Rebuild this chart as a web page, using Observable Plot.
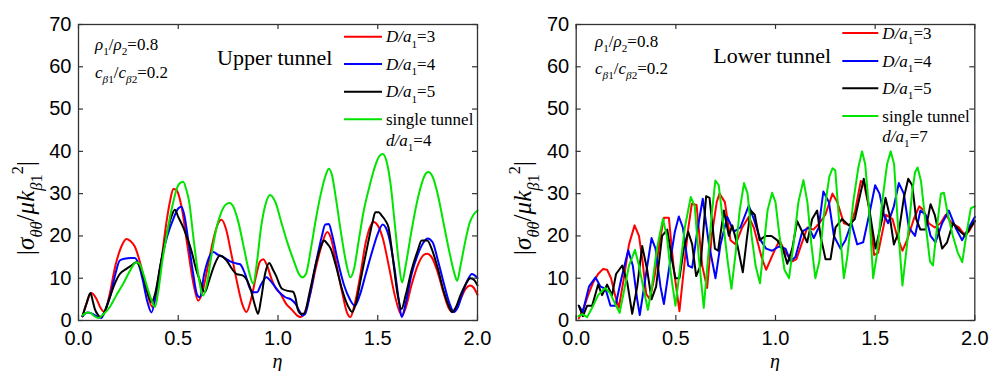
<!DOCTYPE html>
<html><head><meta charset="utf-8">
<script src="https://cdn.jsdelivr.net/npm/d3@7"></script>
<script src="https://cdn.jsdelivr.net/npm/@observablehq/plot@0.6"></script>
<style>
html,body{margin:0;padding:0;background:#fff;}
#wrap{position:relative;width:990px;height:371px;overflow:hidden;background:#fff;}
.panel{position:absolute;top:0;width:495px;height:371px;}
</style></head><body><div id="wrap"></div>
<script>
// ---- tick values ----
const xTicks = [0, 0.5, 1.0, 1.5, 2.0];
const yTicks = [0, 10, 20, 30, 40, 50, 60, 70];
const seriesLabels = ["D/a1=3", "D/a1=4", "D/a1=5", "single tunnel"];
const seriesColors = ["#ff0000", "#0000ff", "#000000", "#00e400"];

// ---- Upper tunnel: [eta, |sigma|] ----
const upperD3 = [[0.02,1],[0.04,4],[0.065,6.5],[0.09,5.1],[0.11,3],[0.13,2],[0.155,6],[0.185,13],[0.215,17.5],[0.24,19.3],[0.26,18.8],[0.282,17.5],[0.31,13.5],[0.34,7.5],[0.37,3.2],[0.39,6],[0.415,14],[0.44,23],[0.46,28.5],[0.475,31.1],[0.49,31],[0.5,30],[0.52,26],[0.545,18],[0.575,9],[0.6,4.7],[0.62,6.5],[0.645,12],[0.675,19],[0.7,23],[0.717,23.8],[0.74,21.5],[0.765,16],[0.795,9],[0.82,4],[0.842,2],[0.865,5],[0.89,10.5],[0.91,14],[0.926,14.5],[0.945,13],[0.97,9.5],[0.99,7.5],[1.01,6.5],[1.04,4],[1.07,2.5],[1.095,1.2],[1.113,0.8],[1.13,1.5],[1.16,6],[1.19,12.5],[1.22,18],[1.247,20.9],[1.265,19.5],[1.29,14],[1.32,7],[1.345,2],[1.363,0.8],[1.38,3],[1.41,10],[1.44,18.5],[1.465,22.5],[1.48,23.3],[1.5,22.5],[1.525,19.5],[1.555,13],[1.585,6],[1.61,2],[1.622,1.2],[1.64,3],[1.67,8.5],[1.7,13],[1.73,15.5],[1.748,15.8],[1.77,15],[1.8,11.5],[1.83,6.5],[1.855,3],[1.873,2],[1.89,2.5],[1.915,5],[1.94,7.5],[1.965,8.3],[1.98,7.8],[2.0,6.1]];
const upperD4 = [[0.02,1],[0.045,1.9],[0.065,1.7],[0.09,1],[0.115,0.6],[0.135,2.5],[0.16,6],[0.185,11],[0.207,14.2],[0.23,14.6],[0.26,14.8],[0.282,14.8],[0.3,13.5],[0.32,10],[0.345,4.5],[0.366,1.9],[0.39,7],[0.415,14],[0.445,20],[0.475,24],[0.5,26.5],[0.516,26.9],[0.53,25],[0.55,19],[0.575,11],[0.595,6],[0.608,5.5],[0.63,11],[0.655,15],[0.675,16.2],[0.7,15.5],[0.725,15],[0.76,14],[0.792,13.5],[0.81,13.3],[0.835,11],[0.86,7.5],[0.876,6.7],[0.895,6.7],[0.915,8.5],[0.942,10.2],[0.96,9.5],[0.985,8],[1.01,6.5],[1.037,5.5],[1.065,5],[1.087,4],[1.11,2],[1.12,1.2],[1.135,1.5],[1.16,6],[1.19,13.5],[1.22,20],[1.237,22.7],[1.255,22.8],[1.27,20.5],[1.3,14],[1.33,8.5],[1.36,5],[1.385,3.5],[1.41,6],[1.44,11],[1.47,16],[1.5,20.5],[1.525,22.7],[1.54,22],[1.56,19],[1.585,12],[1.605,5],[1.62,0.8],[1.64,4],[1.67,11],[1.7,15.5],[1.73,18.5],[1.75,19.4],[1.775,18.5],[1.8,14.5],[1.83,9],[1.86,4],[1.882,2],[1.9,3],[1.925,6.5],[1.95,9.5],[1.972,11],[1.99,10.5],[2.0,10]];
const upperD5 = [[0.02,1],[0.04,4],[0.06,6.5],[0.072,4.5],[0.082,2.7],[0.1,1.2],[0.107,0.8],[0.125,1.5],[0.15,4.5],[0.18,8.5],[0.207,11],[0.24,12.2],[0.265,13],[0.29,13.8],[0.31,12.5],[0.33,9.5],[0.35,6],[0.366,4.3],[0.385,6.5],[0.41,13],[0.44,20],[0.465,24.5],[0.483,26.2],[0.5,24.5],[0.525,22],[0.545,19.5],[0.566,16.5],[0.59,12],[0.608,9.5],[0.633,6.7],[0.655,9.5],[0.68,13],[0.709,15.4],[0.742,14.2],[0.765,12.5],[0.792,11],[0.825,10.6],[0.845,9.5],[0.865,7],[0.885,3.5],[0.9,1.6],[0.915,5],[0.935,11],[0.956,13.6],[0.975,12],[0.99,10.6],[1.02,7.5],[1.05,7],[1.075,6.8],[1.087,5.5],[1.1,2.5],[1.115,1.6],[1.13,1.6],[1.16,7],[1.19,13.5],[1.215,17.5],[1.23,18.9],[1.25,18],[1.264,17],[1.29,13],[1.32,7.5],[1.35,3.5],[1.372,2],[1.39,4],[1.42,11],[1.45,18],[1.475,23.5],[1.488,25.6],[1.505,25.6],[1.52,24.8],[1.54,23.5],[1.554,22],[1.575,15],[1.6,6],[1.619,2.7],[1.64,6],[1.67,12],[1.7,16.5],[1.72,18.9],[1.748,18.9],[1.77,17],[1.8,12.5],[1.83,7],[1.855,3.5],[1.873,2],[1.89,3],[1.915,6],[1.94,8.5],[1.965,10],[1.985,9.5],[2.0,8.3]];
const upperSingle = [[0.02,1.2],[0.045,1.9],[0.06,1.8],[0.08,1],[0.1,0.6],[0.125,1.5],[0.157,3.2],[0.19,6],[0.224,8.7],[0.255,11.5],[0.29,13.8],[0.305,13.5],[0.325,11],[0.35,7],[0.37,4.3],[0.383,3.2],[0.4,7],[0.42,14],[0.445,21],[0.47,27],[0.495,31.5],[0.515,32.7],[0.525,32.8],[0.54,31],[0.555,28],[0.575,20],[0.6,11],[0.625,5.9],[0.645,9],[0.665,15],[0.69,21.5],[0.715,25.5],[0.74,27.5],[0.759,27.8],[0.775,27],[0.8,23.5],[0.83,17],[0.855,11.5],[0.876,8.7],[0.895,14],[0.915,22],[0.935,27],[0.96,29.7],[0.987,28],[1.018,23],[1.05,18],[1.08,14],[1.105,11],[1.121,10.2],[1.14,11],[1.165,17],[1.19,24],[1.215,30],[1.24,34.5],[1.255,35.9],[1.27,34.5],[1.29,29],[1.315,21],[1.34,14],[1.363,10.2],[1.38,12],[1.405,19],[1.43,26],[1.46,32],[1.49,37],[1.51,39],[1.525,39.4],[1.545,37.5],[1.565,32],[1.585,23],[1.605,14],[1.622,9],[1.64,13],[1.665,20],[1.69,26.5],[1.715,31.5],[1.735,34.3],[1.753,35.1],[1.775,34],[1.8,30],[1.83,23],[1.86,16],[1.885,11],[1.898,9.4],[1.915,13],[1.94,19],[1.96,23],[1.98,25],[2.0,26]];

// ---- Lower tunnel: [eta, |sigma|] ----
const lowerD3 = [[0.013,0.5],[0.038,3],[0.06,6],[0.085,9],[0.11,11],[0.135,12.2],[0.155,12],[0.175,10],[0.195,6],[0.214,3],[0.239,10],[0.265,18],[0.293,22.5],[0.315,20],[0.333,14],[0.351,6.3],[0.37,5],[0.395,11],[0.42,19],[0.44,24.3],[0.465,24.3],[0.49,12],[0.518,2.2],[0.54,12],[0.56,21],[0.58,27.6],[0.604,27.3],[0.632,13],[0.657,7.7],[0.68,20],[0.705,28],[0.719,30],[0.746,28],[0.774,19],[0.8,18],[0.833,22],[0.866,24.5],[0.891,22],[0.93,15],[0.953,12],[0.99,16],[1.02,19],[1.05,16],[1.085,14],[1.105,14.5],[1.13,18],[1.16,22],[1.19,21.5],[1.22,23],[1.25,25],[1.286,30],[1.31,28],[1.343,23],[1.376,22.5],[1.4,26],[1.428,33],[1.443,32.5],[1.468,27],[1.495,15.5],[1.515,16],[1.554,25],[1.587,24],[1.61,20],[1.637,16.5],[1.66,19],[1.694,24],[1.721,27],[1.744,26],[1.769,23],[1.799,22],[1.828,23],[1.854,25],[1.886,23],[1.92,22],[1.945,20.5],[1.97,21],[2.0,23.5]];
const lowerD4 = [[0.013,3.5],[0.033,2],[0.064,8],[0.097,10.2],[0.122,8],[0.147,7.5],[0.172,3.5],[0.197,3.5],[0.227,10],[0.261,16.6],[0.284,13],[0.306,5],[0.319,1.3],[0.344,9],[0.378,19.5],[0.398,17],[0.423,8],[0.44,3.9],[0.465,12],[0.495,21],[0.515,24.6],[0.535,22],[0.562,13],[0.582,12.5],[0.607,21],[0.635,28.8],[0.666,18],[0.699,10],[0.724,18],[0.758,24.5],[0.791,21],[0.824,22],[0.866,27.2],[0.891,24],[0.925,19],[0.953,17],[0.983,16.5],[1.017,17.5],[1.05,17],[1.075,14],[1.1,15],[1.134,21],[1.167,22],[1.192,19.5],[1.217,22],[1.24,30.5],[1.268,28],[1.293,20],[1.326,17],[1.351,19],[1.381,23],[1.41,18],[1.44,18.5],[1.47,25],[1.5,32],[1.522,30],[1.544,25],[1.565,23],[1.594,27],[1.619,32.5],[1.644,30],[1.669,22],[1.7,20],[1.727,26],[1.753,25],[1.778,20],[1.803,18.5],[1.836,23],[1.87,26],[1.903,22],[1.936,19],[1.97,22],[2.0,24.5]];
const lowerD5 = [[0.013,3.5],[0.033,1],[0.055,3.5],[0.08,3.5],[0.11,8.5],[0.13,6],[0.155,8.5],[0.18,6],[0.2,11],[0.231,13],[0.256,9],[0.281,1.6],[0.306,8],[0.331,17.6],[0.356,12],[0.378,5],[0.401,8],[0.431,20],[0.457,21.5],[0.482,14],[0.498,10],[0.518,10],[0.54,17],[0.562,21],[0.582,18],[0.602,10.5],[0.624,13],[0.652,29.4],[0.669,29],[0.696,17],[0.712,16.5],[0.741,26],[0.766,20],[0.783,22.5],[0.808,18],[0.836,11.4],[0.858,20],[0.875,26],[0.896,25],[0.92,19],[0.95,20],[0.98,20],[1.008,19],[1.037,17],[1.059,13.4],[1.084,17],[1.109,23.5],[1.134,21],[1.159,18.5],[1.184,24],[1.209,26],[1.226,20],[1.251,14.5],[1.276,14.5],[1.301,22],[1.334,24],[1.368,22.5],[1.398,24],[1.426,30],[1.443,33.5],[1.465,28],[1.485,22],[1.502,17],[1.535,24],[1.552,29],[1.572,25],[1.594,18],[1.619,21],[1.644,29],[1.666,33.5],[1.686,32],[1.706,24],[1.727,21.5],[1.753,21.5],[1.778,27.5],[1.799,25],[1.836,17],[1.861,18.5],[1.89,23],[1.928,21],[1.953,20],[1.978,22],[2.0,23.5]];
const lowerSingle = [[0.01,1],[0.03,1.5],[0.055,0.8],[0.08,3],[0.11,6],[0.145,7.7],[0.17,6.5],[0.195,4],[0.218,1.8],[0.24,7],[0.265,13],[0.295,16.7],[0.315,13],[0.34,7],[0.36,2.5],[0.38,8],[0.405,17],[0.435,24],[0.455,20],[0.475,11],[0.498,3.5],[0.52,12],[0.545,22],[0.575,29.2],[0.595,27],[0.615,15],[0.64,3],[0.66,14],[0.68,25],[0.698,33.1],[0.715,32],[0.74,22],[0.76,14],[0.779,7.5],[0.8,16],[0.82,26],[0.842,32.5],[0.86,30],[0.88,20],[0.9,13],[0.922,8.8],[0.94,17],[0.96,26],[0.983,30.2],[1.0,28],[1.02,20],[1.045,12],[1.068,10],[1.09,18],[1.115,28],[1.14,33.2],[1.16,28],[1.18,18],[1.2,10],[1.22,14],[1.245,26],[1.27,34],[1.286,36],[1.3,35.5],[1.32,23],[1.343,10],[1.36,15],[1.39,28],[1.415,36],[1.434,40],[1.45,37],[1.47,26],[1.49,10],[1.51,16],[1.535,28],[1.56,37],[1.578,40],[1.595,37],[1.615,22],[1.637,8.3],[1.66,18],[1.685,30],[1.7,35],[1.713,36.2],[1.73,33],[1.755,22],[1.775,14],[1.79,13],[1.81,22],[1.83,30],[1.845,30.2],[1.865,25],[1.89,20],[1.915,16],[1.937,13.8],[1.96,21],[1.98,26.5],[2.0,27]];

const SERIF = "'Liberation Serif','Times New Roman',serif";

function rich(g, x, y, parts, size, anchor) {
  const t = g.append("text").attr("x", x).attr("y", y)
    .attr("font-family", SERIF).attr("font-size", size).attr("fill", "#000")
    .attr("text-anchor", anchor || "start");
  let shift = 0;
  parts.forEach(p => {
    const s = t.append("tspan").text(p.t);
    let target = 0, fs = size;
    if (p.sub) { target = size * 0.32; fs = size * 0.66; }
    if (p.sup) { target = -size * 0.45; fs = size * 0.66; }
    s.attr("font-size", fs).attr("dy", target - shift);
    shift = target;
    if (p.i) s.attr("font-style", "italic");
  });
  return t;
}

function panel(cfg) {
  const W = 495, H = 371, mt = 24, mb = 51;
  const iw = W - cfg.ml - cfg.mr, ih = H - mt - mb;
  const tickStyle = {stroke: "#333", strokeWidth: 1.2};
  const svg = Plot.plot({
    width: W, height: H,
    marginLeft: cfg.ml, marginRight: cfg.mr, marginTop: mt, marginBottom: mb,
    x: {domain: [0, 2]},
    y: {domain: [0, 70]},
    style: {fontFamily: "'Liberation Sans',Arial,sans-serif", fontSize: "20px", color: "#000", background: "transparent", overflow: "visible"},
    marks: [
      ...cfg.series.map((s, i) => Plot.line(s, {x: d => d[0], y: d => d[1], stroke: seriesColors[i], strokeWidth: 2, curve: cfg.curve})),
      Plot.frame({stroke: "#333", strokeWidth: 1.3}),
      Plot.tickX(xTicks, {x: d => d, insetTop: ih - 5, ...tickStyle}),
      Plot.tickX(xTicks, {x: d => d, insetBottom: ih - 5, ...tickStyle}),
      Plot.tickY(yTicks, {y: d => d, insetRight: iw - 5, ...tickStyle}),
      Plot.tickY(yTicks, {y: d => d, insetLeft: iw - 5, ...tickStyle}),
      Plot.axisX(xTicks, {anchor: "bottom", tickSize: 0, tickPadding: 10, tickFormat: d3.format(".1f"), label: null}),
      Plot.axisY(yTicks, {anchor: "left", tickSize: 0, tickPadding: 7, label: null})
    ]
  });
  const g = d3.select(svg).append("g").attr("text-anchor", "start");
  // x label
  g.append("text").attr("x", cfg.ml + iw / 2).attr("y", 368).attr("text-anchor", "middle")
    .attr("font-family", SERIF).attr("font-style", "italic").attr("font-size", 20).text("η");
  // y label
  const yl = g.append("g").attr("transform", `translate(${cfg.ylx},208) rotate(-90)`);
  rich(yl, 0, 0, [{t: "|"}, {t: "σ", i: 1}, {t: "θθ", i: 1, sub: 1}, {t: "/"}, {t: "μk", i: 1}, {t: "β", i: 1, sub: 1}, {t: "1", sub: 1}, {t: "2", sup: 1}, {t: "|"}], 25, "middle");
  // parameters
  rich(g, cfg.px, cfg.py1, [{t: "ρ", i: 1}, {t: "1", sub: 1}, {t: "/"}, {t: "ρ", i: 1}, {t: "2", sub: 1}, {t: "=0.8"}], 17);
  rich(g, cfg.px, cfg.py2, [{t: "c", i: 1}, {t: "β", i: 1, sub: 1}, {t: "1", sub: 1}, {t: "/"}, {t: "c", i: 1}, {t: "β", i: 1, sub: 1}, {t: "2", sub: 1}, {t: "=0.2"}], 17);
  rich(g, cfg.tx, cfg.ty, [{t: cfg.title}], 22);
  // legend
  cfg.legY.forEach((ly, i) => {
    g.append("line").attr("x1", cfg.lx1).attr("x2", cfg.lx2).attr("y1", ly).attr("y2", ly)
      .attr("stroke", seriesColors[i]).attr("stroke-width", 2);
    const lab = seriesLabels[i];
    if (lab.startsWith("D/a")) {
      rich(g, cfg.lx2 + 4, ly + 5.5, [{t: "D/a", i: 1}, {t: "1", sub: 1}, {t: lab.slice(4)}], 17);
    } else {
      rich(g, cfg.lx2 + 4, ly + 5.5, [{t: lab}], 17);
    }
  });
  rich(g, cfg.lx2 + 4, cfg.dy, [{t: "d/a", i: 1}, {t: "1", sub: 1}, {t: "=" + cfg.d}], 17);
  const div = document.createElement("div");
  div.className = "panel";
  div.style.left = cfg.left + "px";
  div.appendChild(svg);
  document.getElementById("wrap").appendChild(div);
}

panel({left: 0, ml: 78, mr: 18, curve: "monotone-x", series: [upperD3, upperD4, upperD5, upperSingle],
  ylx: 34, px: 95, py1: 50, py2: 78, tx: 217, ty: 65, title: "Upper tunnel",
  lx1: 344, lx2: 382, legY: [36.7, 64, 91.7, 119.3], dy: 146, d: "4"});
panel({left: 495, ml: 80.7, mr: 15.7, curve: "linear", series: [lowerD3, lowerD4, lowerD5, lowerSingle],
  ylx: 36, px: 100, py1: 46.7, py2: 74, tx: 218.3, ty: 63.3, title: "Lower tunnel",
  lx1: 347.3, lx2: 383.3, legY: [33, 61, 88.3, 116], dy: 141.7, d: "7"});
</script></body></html>
